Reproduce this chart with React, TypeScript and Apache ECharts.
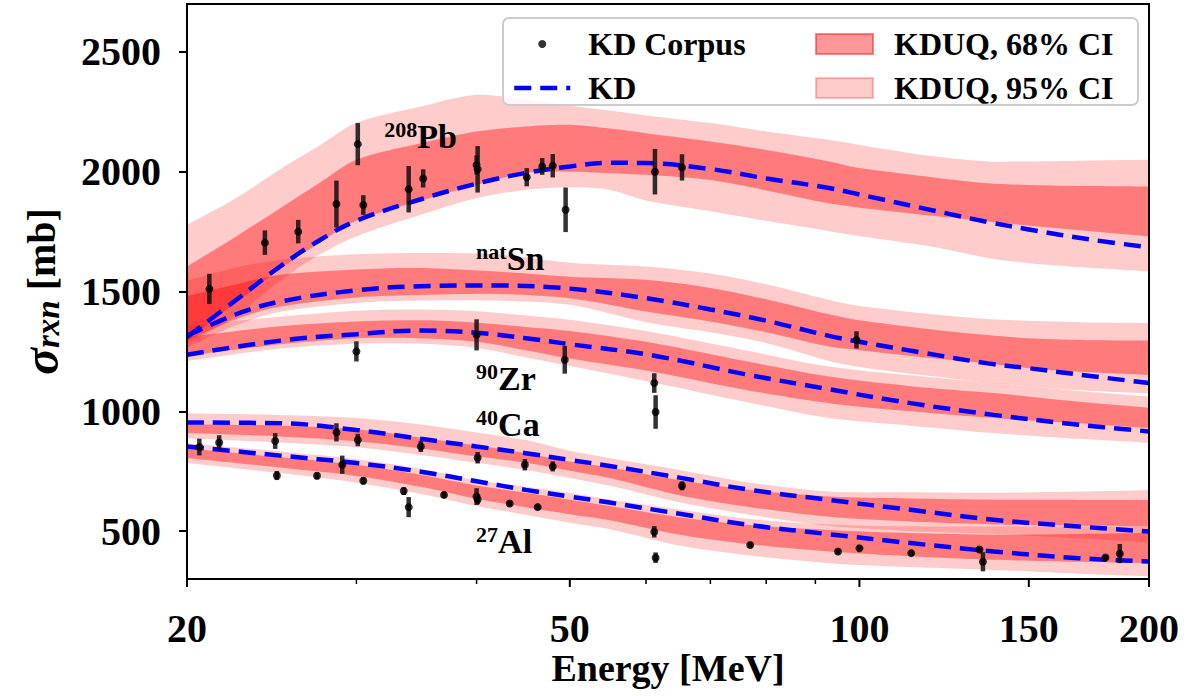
import React, { useEffect, useRef } from "react";
import * as echarts from "echarts";

const FONT = "Liberation Serif";

// Axis ticks
const xMajorTicks = [20, 50, 100, 150, 200];
const xMinorTicks = [30, 40, 60, 70, 80, 90];
const yTicks = [500, 1000, 1500, 2000, 2500];
const xMin = 20;
const xMax = 200;
const yMin = 300;
const yMax = 2700;

// 208Pb
const pbEnergy = [20, 22.5, 25, 27.5, 30, 35, 40, 45, 50, 55, 60, 70, 80, 93, 100, 120, 136, 150, 175, 200];
const pbKD = [1310, 1465, 1605, 1715, 1795, 1885, 1950, 1995, 2022, 2037, 2036, 2011, 1972, 1932, 1905, 1836, 1790, 1759, 1715, 1685];
const pbLow68 = [1300, 1455, 1595, 1705, 1795, 1880, 1945, 1995, 2000, 1994, 1987, 1965, 1922, 1868, 1850, 1815, 1792, 1775, 1750, 1730];
const pbHigh68 = [1604, 1730, 1848, 1955, 2050, 2119, 2168, 2189, 2196, 2180, 2161, 2126, 2091, 2043, 2015, 1975, 1952, 1945, 1940, 1938];
const pbLow95 = [1278, 1400, 1545, 1655, 1730, 1820, 1890, 1924, 1935, 1925, 1880, 1835, 1795, 1752, 1732, 1685, 1640, 1618, 1598, 1584];
const pbHigh95 = [1778, 1890, 2010, 2110, 2204, 2272, 2321, 2300, 2275, 2255, 2235, 2203, 2168, 2133, 2112, 2063, 2043, 2043, 2047, 2050];

// natSn
const snEnergy = [20, 22.5, 25, 30, 35, 42, 50, 60, 70, 80, 93, 100, 117, 136, 150, 170, 200];
const snKD = [1315, 1405, 1458, 1505, 1522, 1525, 1512, 1472, 1425, 1378, 1315, 1290, 1243, 1200, 1180, 1152, 1118];
const snLow68 = [1295, 1385, 1437, 1475, 1485, 1490, 1472, 1417, 1375, 1330, 1270, 1255, 1225, 1200, 1180, 1165, 1152];
const snHigh68 = [1480, 1530, 1570, 1592, 1598, 1583, 1562, 1549, 1515, 1468, 1405, 1380, 1345, 1318, 1305, 1298, 1295];
const snLow95 = [1265, 1360, 1415, 1452, 1462, 1462, 1445, 1372, 1330, 1285, 1210, 1185, 1150, 1120, 1105, 1088, 1075];
const snHigh95 = [1545, 1600, 1632, 1655, 1661, 1655, 1620, 1604, 1575, 1530, 1465, 1440, 1408, 1385, 1378, 1372, 1369];

// 90Zr
const zrEnergy = [20, 25, 30, 35, 40, 45, 50, 61, 76, 93, 113, 138, 169, 200];
const zrKD = [1236, 1295, 1322, 1337, 1328, 1305, 1280, 1233, 1155, 1092, 1034, 985, 944, 916];
const zrLow68 = [1232, 1280, 1305, 1305, 1290, 1255, 1220, 1165, 1090, 1034, 1000, 972, 950, 930];
const zrHigh68 = [1310, 1355, 1375, 1380, 1370, 1352, 1335, 1285, 1210, 1145, 1105, 1076, 1040, 1015];
const zrLow95 = [1210, 1262, 1282, 1282, 1265, 1225, 1190, 1120, 1040, 972, 940, 909, 885, 868];
const zrHigh95 = [1355, 1395, 1420, 1425, 1418, 1400, 1382, 1330, 1255, 1187, 1150, 1118, 1085, 1062];

// 40Ca
const caEnergy = [20, 25, 30, 35, 40, 45, 50, 55, 65, 77, 93, 113, 138, 169, 200];
const caKD = [953, 950, 922, 885, 853, 825, 797, 772, 723, 672, 630, 589, 547, 519, 498];
const caLow68 = [909, 895, 875, 845, 812, 785, 752, 722, 650, 600, 560, 540, 528, 522, 520];
const caHigh68 = [946, 940, 925, 890, 858, 825, 790, 765, 712, 672, 644, 636, 631, 630, 630];
const caLow95 = [888, 870, 850, 818, 785, 755, 722, 690, 620, 568, 522, 500, 488, 470, 452];
const caHigh95 = [992, 985, 972, 945, 912, 880, 835, 805, 755, 702, 665, 662, 660, 665, 672];

// 27Al
const alEnergy = [20, 25, 30, 35, 40, 45, 50, 55, 65, 77, 93, 113, 138, 169, 200];
const alKD = [853, 815, 784, 748, 708, 672, 644, 619, 572, 525, 487, 450, 415, 387, 373];
const alLow68 = [805, 765, 730, 685, 635, 600, 570, 545, 485, 445, 415, 395, 380, 372, 366];
const alHigh68 = [846, 808, 777, 735, 690, 660, 631, 605, 558, 525, 505, 492, 485, 488, 492];
const alLow95 = [784, 742, 702, 655, 605, 568, 535, 508, 440, 398, 366, 350, 338, 322, 311];
const alHigh95 = [867, 832, 800, 760, 712, 685, 659, 632, 590, 550, 528, 520, 519, 519, 519];

// KD Corpus measurements: energy [MeV], sigma [mb], error [mb]
const corpusEnergy = [
  21.1, 24.1, 26.1, 28.6, 30.1, 30.5, 34.0, 35.2, 40.0, 40.1, 45.1, 46.8, 48.0, 49.5, 61.3, 65.4,
  99.3,
  30.0, 40.0, 49.4, 61.2, 61.4,
  20.6, 21.6, 24.7, 28.6, 30.1, 35.0, 40.1, 44.9, 48.0, 65.4,
  24.8, 27.3, 29.0, 30.5, 33.6, 34.0, 37.0, 40.0, 40.1, 43.3, 46.3, 61.2, 61.4, 77.0, 95.0, 100.0, 113.2, 133.3, 134.4, 180.2, 186.5,
];
const corpusSigma = [
  1511, 1704, 1750, 1865, 2115, 1861, 1927, 1972, 2028, 2010, 1977, 2022, 2025, 1841, 2000, 2018,
  1298,
  1250, 1319, 1215, 1118, 997,
  851, 870, 876, 912, 880, 853, 806, 777, 770, 689,
  732, 731, 777, 710, 667, 600, 651, 644, 632, 615, 600, 497, 389, 442, 415, 428, 408, 423, 372, 390, 406,
];
const corpusError = [
  63, 51, 49, 98, 88, 41, 97, 38, 40, 97, 38, 35, 49, 93, 95, 55,
  36,
  42, 65, 58, 41, 70,
  35, 30, 33, 38, 26, 23, 24, 24, 21, 19,
  19, 15, 38, 15, 16, 42, 12, 35, 20, 12, 12, 24, 22, 12, 12, 12, 12, 12, 40, 10, 40,
];

// Nucleus annotations (anchored in data coordinates)
const labelMass = ["208", "nat", "90", "40", "27"];
const labelElement = ["Pb", "Sn", "Zr", "Ca", "Al"];
const labelEnergy = [32.1, 40.0, 40.0, 40.0, 40.0];
const labelSigma = [2144, 1634, 1136, 944, 453];

const BAND95 = "rgba(255,0,0,0.2)";
const BAND68 = "rgba(255,0,0,0.4)";

function bandSeries(name: string, E: number[], lo: number[], hi: number[], fill: string, z: number) {
  return {
    type: "custom",
    name,
    z,
    clip: true,
    silent: true,
    itemStyle: { color: fill },
    data: [[E[0], lo[0]]],
    encode: { x: 0, y: 1 },
    renderItem: (_params: any, api: any) => {
      const low = E.map((e, i) => api.coord([e, lo[i]]));
      const up = E.map((e, i) => api.coord([e, hi[i]])).reverse();
      const pts = [low[0], ...low, low[low.length - 1], up[0], ...up, up[up.length - 1]];
      return {
        type: "polygon",
        shape: { points: pts, smooth: 0.3 },
        style: { fill },
      };
    },
  };
}

function kdSeries(E: number[], kd: number[]) {
  return {
    type: "line",
    name: "KD",
    z: 3,
    silent: true,
    symbol: "none",
    smooth: 0.4,
    data: E.map((e, i) => [e, kd[i]]),
    lineStyle: { color: "#0000ff", width: 4.5, type: [17, 9] },
    itemStyle: { color: "#0000ff" },
  };
}

export default function App() {
  const ref = useRef<HTMLDivElement>(null);

  useEffect(() => {
    if (!ref.current) return;
    const chart = echarts.init(ref.current, undefined, { renderer: "svg" });

    const nuclei = [
      [pbEnergy, pbKD, pbLow68, pbHigh68, pbLow95, pbHigh95],
      [snEnergy, snKD, snLow68, snHigh68, snLow95, snHigh95],
      [zrEnergy, zrKD, zrLow68, zrHigh68, zrLow95, zrHigh95],
      [caEnergy, caKD, caLow68, caHigh68, caLow95, caHigh95],
      [alEnergy, alKD, alLow68, alHigh68, alLow95, alHigh95],
    ];

    const series: any[] = [];
    nuclei.forEach(([E, , lo68, hi68, lo95, hi95]) => {
      series.push(bandSeries("KDUQ, 95% CI", E, lo95, hi95, BAND95, 1));
      series.push(bandSeries("KDUQ, 68% CI", E, lo68, hi68, BAND68, 2));
    });
    nuclei.forEach(([E, kd]) => series.push(kdSeries(E, kd)));

    // error bars
    series.push({
      type: "custom",
      name: "KD Corpus errors",
      z: 4,
      silent: true,
      clip: true,
      data: corpusEnergy.map((e, i) => [e, corpusSigma[i], corpusError[i]]),
      encode: { x: 0, y: 1 },
      renderItem: (_p: any, api: any) => {
        const e = api.value(0);
        const s = api.value(1);
        const d = api.value(2);
        const a = api.coord([e, s - d]);
        const b = api.coord([e, s + d]);
        return {
          type: "line",
          shape: { x1: a[0], y1: a[1], x2: b[0], y2: b[1] },
          style: { stroke: "rgba(15,15,15,0.85)", lineWidth: 4.5 },
        };
      },
    });

    series.push({
      type: "scatter",
      name: "KD Corpus",
      z: 5,
      silent: true,
      symbol: "circle",
      symbolSize: 8,
      itemStyle: { color: "#000" },
      data: corpusEnergy.map((e, i) => [e, corpusSigma[i]]),
    });

    // nucleus labels
    series.push({
      type: "scatter",
      name: "labels",
      z: 6,
      silent: true,
      symbolSize: 1,
      itemStyle: { color: "rgba(0,0,0,0)" },
      data: labelEnergy.map((e, i) => ({
        value: [e, labelSigma[i]],
        label: { formatter: `{m|${labelMass[i]}}{e|${labelElement[i]}}` },
      })),
      label: {
        show: true,
        position: [0, 0],
        align: "left",
        verticalAlign: "middle",
        color: "#000",
        opacity: 1,
        textBorderWidth: 0,
        textBorderColor: "transparent",
        rich: {
          m: { fontFamily: FONT, fontWeight: "bold", fontSize: 22, color: "#000", lineHeight: 18, verticalAlign: "top", textBorderWidth: 0 },
          e: { fontFamily: FONT, fontWeight: "bold", fontSize: 34, color: "#000", lineHeight: 36, textBorderWidth: 0 },
        },
      },
    });

    // x ticks (major with labels, minor without)
    series.push({
      type: "custom",
      name: "x major ticks",
      z: 20,
      silent: true,
      clip: false,
      data: xMajorTicks.map((v) => [v, yMin]),
      encode: { x: 0, y: 1 },
      renderItem: (_p: any, api: any) => {
        const v = api.value(0);
        const p = api.coord([v, yMin]);
        return {
          type: "group",
          children: [
            { type: "line", shape: { x1: p[0], y1: p[1], x2: p[0], y2: p[1] + 8 }, style: { stroke: "#000", lineWidth: 2 } },
            {
              type: "text",
              x: p[0],
              y: p[1] + 49,
              style: {
                text: String(v),
                fill: "#000",
                fontSize: 40,
                fontFamily: FONT,
                fontWeight: "bold",
                textAlign: "center",
                textVerticalAlign: "middle",
              },
            },
          ],
        };
      },
    });
    series.push({
      type: "custom",
      name: "x minor ticks",
      z: 20,
      silent: true,
      clip: false,
      data: xMinorTicks.map((v) => [v, yMin]),
      encode: { x: 0, y: 1 },
      renderItem: (_p: any, api: any) => {
        const p = api.coord([api.value(0), yMin]);
        return { type: "line", shape: { x1: p[0], y1: p[1], x2: p[0], y2: p[1] + 5 }, style: { stroke: "#000", lineWidth: 1.5 } };
      },
    });

    const textBase = { fontFamily: FONT, fontWeight: "bold" as const, color: "#000" };

    chart.setOption({
      animation: false,
      backgroundColor: "#fff",
      grid: { left: 187, right: 51, top: 4, bottom: 117, containLabel: false, outerBoundsMode: "none" },
      xAxis: [
        {
          type: "log",
          logBase: 10,
          min: xMin,
          max: xMax,
          position: "bottom",
          z: 20,
          axisLine: { show: true, lineStyle: { color: "#000", width: 2 } },
          axisTick: { show: false },
          axisLabel: { show: false },
          splitLine: { show: false },
          minorTick: { show: false },
          name: "Energy [MeV]",
          nameLocation: "middle",
          nameGap: 70,
          nameMoveOverlap: false,
          nameTextStyle: { ...textBase, fontSize: 38 },
        },
        {
          type: "log",
          logBase: 10,
          min: xMin,
          max: xMax,
          position: "top",
          z: 20,
          axisLine: { show: true, lineStyle: { color: "#000", width: 2 } },
          axisTick: { show: false },
          axisLabel: { show: false },
          splitLine: { show: false },
        },
      ],
      yAxis: [
        {
          type: "value",
          min: yMin,
          max: yMax,
          position: "left",
          z: 20,
          axisLine: { show: true, lineStyle: { color: "#000", width: 2 } },
          axisTick: { show: true, inside: false, length: 8, lineStyle: { color: "#000", width: 2 }, customValues: yTicks },
          axisLabel: { ...textBase, fontSize: 40, margin: 26, customValues: yTicks, formatter: (v: number) => String(v) },
          splitLine: { show: false },
          name: "{s|σ}{r|rxn}{b| [mb]}",
          nameLocation: "middle",
          nameRotate: 90,
          nameGap: 123,
          nameMoveOverlap: false,
          nameTextStyle: {
            color: "#000",
            rich: {
              s: { fontFamily: FONT, fontSize: 50, fontWeight: "bold", fontStyle: "italic", color: "#000", lineHeight: 46 },
              r: { fontFamily: FONT, fontSize: 33, fontWeight: "bold", fontStyle: "italic", color: "#000", lineHeight: 30, verticalAlign: "bottom" },
              b: { fontFamily: FONT, fontSize: 40, fontWeight: "bold", color: "#000", lineHeight: 46 },
            },
          },
        },
        {
          type: "value",
          min: yMin,
          max: yMax,
          position: "right",
          z: 20,
          axisLine: { show: true, lineStyle: { color: "#000", width: 2 } },
          axisTick: { show: false },
          axisLabel: { show: false },
          splitLine: { show: false },
        },
      ],
      graphic: [
        {
          type: "rect",
          z: 10,
          silent: true,
          shape: { x: 503, y: 18, width: 635, height: 87, r: 6 },
          style: { fill: "rgba(255,255,255,0.8)", stroke: "#cccccc", lineWidth: 2 },
        },
      ],
      legend: [
        {
          left: 507,
          top: 23,
          orient: "vertical",
          z: 12,
          itemWidth: 56,
          itemHeight: 8,
          itemGap: 12,
          selectedMode: false,
          textStyle: { ...textBase, fontSize: 32, lineHeight: 30, padding: [0, 0, 0, 13] },
          lineStyle: { width: 4.5 },
          data: [{ name: "KD Corpus", icon: "circle" }, { name: "KD", itemStyle: { opacity: 0 } }],
        },
        {
          left: 810,
          top: 23,
          orient: "vertical",
          z: 12,
          itemWidth: 57,
          itemHeight: 20,
          itemGap: 12,
          selectedMode: false,
          textStyle: { ...textBase, fontSize: 32, lineHeight: 30, padding: [0, 0, 0, 16] },
          data: [
            { name: "KDUQ, 68% CI", icon: "rect", itemStyle: { color: BAND68, borderColor: "rgba(255,0,0,0.45)", borderWidth: 2 } },
            { name: "KDUQ, 95% CI", icon: "rect", itemStyle: { color: BAND95, borderColor: "rgba(255,0,0,0.25)", borderWidth: 2 } },
          ],
        },
      ],
      series,
    });

    return () => chart.dispose();
  }, []);

  return (
    <div
      ref={ref}
      style={{ position: "fixed", left: 0, top: 0, width: 1200, height: 696, background: "#fff" }}
    />
  );
}
